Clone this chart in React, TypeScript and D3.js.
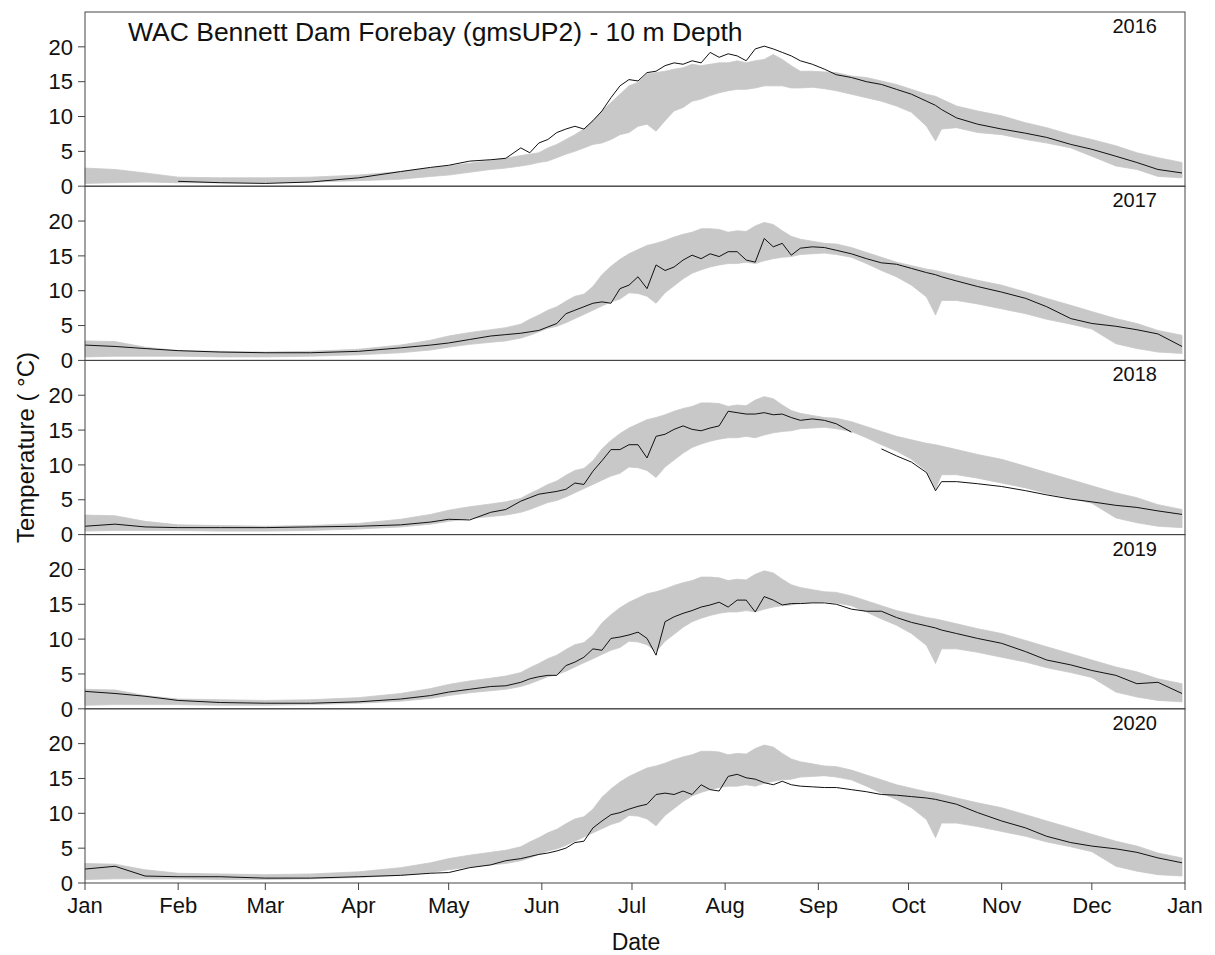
import React from "react";
import * as d3 from "d3";

// day of year for every sample below
const days = [
  0, 10, 20, 31, 45, 60, 75, 91, 105, 115, 121, 128, 135, 140, 145,
  148, 151, 154, 157, 160, 163, 166, 169, 172, 175, 178, 181, 184, 187, 190, 193,
  196, 199, 202, 205, 208, 211, 214, 217, 220, 223, 226, 229, 232, 235, 238,
  242, 246, 250, 255, 260, 265, 270, 275, 280, 283, 285, 290, 297, 305, 313, 320, 328, 335, 343, 350, 357, 365,
];

const t2016 = [
  NaN, NaN, NaN, 0.7, 0.5, 0.4, 0.6, 1.2, 2.1, 2.7, 3.0, 3.6, 3.8, 4.0, 5.5,
  4.8, 6.2, 6.7, 7.7, 8.2, 8.6, 8.2, 9.4, 10.8, 12.7, 14.4, 15.3, 15.1, 16.3, 16.5, 17.3,
  17.7, 17.5, 18.0, 17.7, 19.2, 18.5, 19.0, 18.7, 18.0, 19.7, 20.1, 19.7, 19.2, 18.7, 18.0,
  17.5, 16.8, 16.0, 15.6, 15.0, 14.6, 13.9, 13.2, 12.2, 11.6, 11.0, 9.8, 8.9, 8.2, 7.6, 7.0, 6.0, 5.3, 4.3, 3.4, 2.4, 1.9,
];
const t2017 = [
  2.2, 2.0, 1.7, 1.4, 1.2, 1.1, 1.1, 1.3, 1.8, 2.2, 2.5, 3.0, 3.5, 3.7, 3.9,
  4.1, 4.3, 4.8, 5.3, 6.7, 7.2, 7.7, 8.2, 8.4, 8.2, 10.3, 10.8, 12.0, 10.3, 13.7, 12.9,
  13.4, 14.4, 15.1, 14.6, 15.3, 14.9, 15.6, 15.6, 14.4, 14.1, 17.5, 16.3, 16.8, 15.1, 16.1,
  16.3, 16.2, 15.8, 15.3, 14.6, 14.0, 13.8, 13.2, 12.6, 12.3, 12.0, 11.4, 10.6, 9.8, 8.9, 7.7, 6.0, 5.3, 4.9, 4.4, 3.8, 2.0,
];
const t2018 = [
  1.2, 1.5, 1.1, 1.0, 1.0, 1.0, 1.1, 1.2, 1.4, 1.8, 2.2, 2.1, 3.2, 3.6, 4.8,
  5.3, 5.8, 6.0, 6.2, 6.5, 7.4, 7.2, 9.1, 10.6, 12.2, 12.2, 12.9, 12.9, 11.0, 14.1, 14.4,
  15.1, 15.6, 15.1, 14.9, 15.3, 15.6, 17.7, 17.5, 17.3, 17.3, 17.5, 17.2, 17.3, 16.8, 16.4,
  16.6, 16.4, 15.9, 14.7, NaN, 12.3, 11.3, 10.4, 8.9, 6.3, 7.6, 7.6, 7.3, 6.9, 6.3, 5.7, 5.1, 4.7, 4.2, 3.9, 3.4, 2.9,
];
const t2019 = [
  2.5, 2.2, 1.8, 1.2, 0.9, 0.8, 0.8, 1.0, 1.4, 1.9, 2.4, 2.8, 3.2, 3.3, 3.8,
  4.3, 4.6, 4.8, 4.8, 6.2, 6.7, 7.4, 8.6, 8.4, 10.1, 10.3, 10.6, 11.0, 10.1, 7.7, 12.5,
  13.2, 13.7, 14.1, 14.6, 14.9, 15.3, 14.6, 15.6, 15.6, 13.9, 16.1, 15.6, 14.9, 15.1, 15.1,
  15.2, 15.2, 15.0, 14.3, 14.0, 14.0, 13.1, 12.4, 11.9, 11.6, 11.3, 10.8, 10.1, 9.4, 8.2, 7.0, 6.3, 5.5, 4.8, 3.6, 3.8, 2.2,
];
const t2020 = [
  2.0, 2.4, 1.0, 0.9, 0.9, 0.7, 0.7, 0.9, 1.1, 1.4, 1.5, 2.2, 2.6, 3.2, 3.5,
  3.8, 4.1, 4.3, 4.6, 5.0, 5.8, 6.0, 7.9, 8.9, 9.8, 10.1, 10.6, 11.0, 11.3, 12.7, 12.9,
  12.7, 13.2, 12.7, 14.1, 13.4, 13.2, 15.3, 15.6, 15.1, 14.9, 14.4, 14.1, 14.6, 14.1, 13.9,
  13.8, 13.7, 13.7, 13.4, 13.1, 12.7, 12.6, 12.4, 12.2, 12.0, 11.8, 11.3, 10.1, 8.9, 7.9, 6.7, 5.8, 5.3, 4.9, 4.4, 3.6, 2.9,
];

// grey envelope of the other years
const bandHi2016 = [
  2.6, 2.4, 1.9, 1.3, 1.2, 1.2, 1.3, 1.6, 2.1, 2.6, 2.9, 3.3, 3.7, 4.0, 4.4,
  4.6, 4.8, 5.5, 6.0, 6.7, 7.4, 8.2, 9.4, 10.8, 12.0, 13.2, 14.4, 14.9, 16.1, 16.3, 16.5,
  16.8, 17.0, 17.5, 17.3, 17.5, 17.7, 17.7, 18.0, 17.7, 18.0, 18.2, 18.9, 18.2, 17.3, 16.5,
  16.5, 16.4, 16.3, 15.8, 15.6, 15.1, 14.6, 13.9, 13.2, 12.9, 12.5, 11.5, 10.8, 10.1, 9.1, 8.4, 7.4, 6.7, 5.8, 4.8, 4.1, 3.4,
];
const bandLo2016 = [
  0.4, 0.5, 0.6, 0.5, 0.5, 0.5, 0.6, 0.8, 1.0, 1.4, 1.6, 2.0, 2.4, 2.6, 2.9,
  3.1, 3.4, 3.6, 4.1, 4.6, 5.0, 5.5, 6.0, 6.2, 6.7, 7.4, 7.7, 8.6, 8.9, 7.9, 9.4,
  10.8, 11.3, 12.2, 12.5, 13.0, 13.4, 13.7, 13.9, 13.9, 14.1, 14.4, 14.4, 14.4, 14.1, 14.1,
  14.2, 14.0, 13.7, 13.2, 12.7, 12.2, 11.5, 10.6, 8.6, 6.5, 8.2, 8.4, 7.7, 7.4, 6.7, 6.2, 5.5, 4.3, 2.9, 2.4, 1.4, 1.2,
];
const bandHi = [
  2.8, 2.7, 1.9, 1.4, 1.3, 1.2, 1.3, 1.6, 2.2, 2.9, 3.5, 4.0, 4.4, 4.7, 5.2,
  5.9, 6.5, 7.2, 7.7, 8.5, 9.2, 9.5, 10.6, 12.3, 13.5, 14.5, 15.3, 15.9, 16.5, 16.8, 17.2,
  17.7, 18.1, 18.4, 18.9, 18.9, 18.8, 18.4, 18.6, 18.5, 19.3, 19.8, 19.5, 18.6, 17.8, 17.4,
  17.1, 16.8, 16.7, 16.2, 15.5, 14.8, 14.1, 13.6, 13.1, 12.9, 12.7, 12.2, 11.5, 10.8, 9.8, 8.9, 7.9, 7.0, 6.0, 5.3, 4.3, 3.6,
];
const bandLo = [
  0.5, 0.6, 0.6, 0.6, 0.5, 0.5, 0.6, 0.8, 1.1, 1.5, 1.9, 2.3, 2.6, 2.8, 3.2,
  3.6, 4.1, 4.6, 4.9, 5.4, 6.0, 6.6, 7.2, 7.8, 8.4, 8.8, 9.7, 9.6, 9.2, 8.2, 9.7,
  10.7, 11.7, 12.5, 13.0, 13.4, 13.7, 13.9, 13.9, 14.1, 13.9, 14.3, 14.6, 14.8, 14.9, 15.2,
  15.3, 15.4, 15.2, 14.8, 13.9, 12.9, 12.0, 10.8, 9.1, 6.5, 8.6, 8.6, 8.1, 7.4, 6.7, 5.9, 5.2, 4.5, 2.4, 1.7, 1.2, 1.0,
];

const years = ["2016", "2017", "2018", "2019", "2020"];
const temps = [t2016, t2017, t2018, t2019, t2020];
const highs = [bandHi2016, bandHi, bandHi, bandHi, bandHi];
const lows = [bandLo2016, bandLo, bandLo, bandLo, bandLo];
const yTicks = [0, 5, 10, 15, 20];

const W = 1215;
const H = 955;
const MARGIN = { TOP: 12, BOTTOM: 72, LEFT: 85, RIGHT: 30 };
const FONT = "'Liberation Sans', Arial, sans-serif";

const App = () => {
  const start = new Date(2016, 0, 1);
  const x = d3
    .scaleTime()
    .domain([start, new Date(2017, 0, 1)])
    .range([MARGIN.LEFT, W - MARGIN.RIGHT]);
  const panelH = (H - MARGIN.TOP - MARGIN.BOTTOM) / years.length;
  const y = d3.scaleLinear().domain([0, 25]).range([panelH, 0]);
  const dx = (i: number) => x(d3.timeDay.offset(start, days[i]));

  const line = d3
    .line<number>()
    .defined((v) => !isNaN(v))
    .x((_, i) => dx(i))
    .y((v) => y(v));

  const bottom = H - MARGIN.BOTTOM;
  const months = x.ticks(d3.timeMonth.every(1)!);
  const fmt = d3.timeFormat("%b");

  return (
    <svg
      width={W}
      height={H}
      style={{ position: "absolute", left: 0, top: 0, background: "#fff" }}
      fontFamily={FONT}
    >
      {years.map((yr, k) => {
        const hi = highs[k];
        const lo = lows[k];
        const area = d3
          .area<number>()
          .x((_, i) => dx(i))
          .y0((_, i) => y(lo[i]))
          .y1((_, i) => y(hi[i]));
        return (
          <g key={yr} transform={`translate(0, ${MARGIN.TOP + k * panelH})`}>
            <path d={area(hi) || ""} fill="#c8c8c8" stroke="#c8c8c8" strokeWidth={0.8} />
            <path d={line(temps[k]) || ""} fill="none" stroke="#111" strokeWidth={1} />
            <rect
              x={MARGIN.LEFT}
              y={0}
              width={W - MARGIN.LEFT - MARGIN.RIGHT}
              height={panelH}
              fill="none"
              stroke="#444"
              strokeWidth={1}
            />
            {yTicks.map((t) => (
              <g key={t} transform={`translate(${MARGIN.LEFT}, ${y(t)})`}>
                <line x1={-7} x2={0} stroke="#444" />
                <text x={-12} dy="0.35em" textAnchor="end" fontSize={22} fill="#111">
                  {t}
                </text>
              </g>
            ))}
            <text x={W - MARGIN.RIGHT - 28} y={21} textAnchor="end" fontSize={20} fill="#111">
              {yr}
            </text>
          </g>
        );
      })}

      {months.map((m, i) => (
        <g key={i} transform={`translate(${x(m)}, ${bottom})`}>
          <line y1={0} y2={7} stroke="#444" />
          <text y={30} textAnchor="middle" fontSize={22} fill="#111">
            {fmt(m)}
          </text>
        </g>
      ))}

      <text x={128} y={41} fontSize={26.5} fill="#111">
        WAC Bennett Dam Forebay (gmsUP2) - 10 m Depth
      </text>
      <text x={636} y={950} textAnchor="middle" fontSize={23} fill="#111">
        Date
      </text>
      <text
        transform={`translate(34, ${MARGIN.TOP + (bottom - MARGIN.TOP) / 2}) rotate(-90)`}
        textAnchor="middle"
        fontSize={24}
        fill="#111"
      >
        Temperature ( °C)
      </text>
    </svg>
  );
};

export default App;
